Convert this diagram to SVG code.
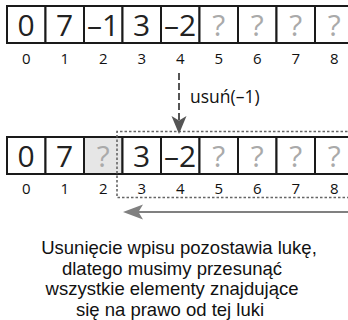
<svg xmlns="http://www.w3.org/2000/svg" width="348" height="320" viewBox="0 0 348 320">
  <style>
    .cell { fill: #ffffff; stroke: #1a1a1a; stroke-width: 2; }
    .gap { fill: #e6e6e6; stroke: #1a1a1a; stroke-width: 2; }
    .val { font-family: "Open Sans", "Noto Sans", sans-serif; font-size: 30px; fill: #222; text-anchor: middle; }
    .unk { font-family: "Open Sans", "Noto Sans", sans-serif; font-size: 30px; fill: #aaaaaa; text-anchor: middle; }
    .idx { font-family: "Open Sans", "Noto Sans", sans-serif; font-size: 15px; fill: #111; text-anchor: middle; }
    .note { font-family: "Liberation Sans", Arial, sans-serif; font-size: 18.5px; fill: #111; text-anchor: middle; }
    .lbl { font-family: "Open Sans", "Noto Sans", sans-serif; font-size: 17.5px; fill: #111; }
  </style>

  <!-- array before removal -->
  <g id="array-before">
    <rect class="cell" x="7" y="6" width="38.5" height="37"/>
    <rect class="cell" x="45.5" y="6" width="38.5" height="37"/>
    <rect class="cell" x="84" y="6" width="38.5" height="37"/>
    <rect class="cell" x="122.5" y="6" width="38.5" height="37"/>
    <rect class="cell" x="161" y="6" width="38.5" height="37"/>
    <rect class="cell" x="199.5" y="6" width="38.5" height="37"/>
    <rect class="cell" x="238" y="6" width="38.5" height="37"/>
    <rect class="cell" x="276.5" y="6" width="38.5" height="37"/>
    <rect class="cell" x="315" y="6" width="38.5" height="37"/>
    <text class="val" x="26.2" y="36">0</text>
    <text class="val" x="64.7" y="36">7</text>
    <text class="val" x="103.2" y="36">–1</text>
    <text class="val" x="141.7" y="36">3</text>
    <text class="val" x="180.2" y="36">–2</text>
    <text class="unk" x="218.7" y="36">?</text>
    <text class="unk" x="257.2" y="36">?</text>
    <text class="unk" x="295.7" y="36">?</text>
    <text class="unk" x="334.2" y="36">?</text>
    <text class="idx" x="26.2" y="64">0</text>
    <text class="idx" x="64.7" y="64">1</text>
    <text class="idx" x="103.2" y="64">2</text>
    <text class="idx" x="141.7" y="64">3</text>
    <text class="idx" x="180.2" y="64">4</text>
    <text class="idx" x="218.7" y="64">5</text>
    <text class="idx" x="257.2" y="64">6</text>
    <text class="idx" x="295.7" y="64">7</text>
    <text class="idx" x="334.2" y="64">8</text>
  </g>

  <!-- array after removal -->
  <g id="array-after">
    <rect class="cell" x="7" y="137" width="38.5" height="37"/>
    <rect class="cell" x="45.5" y="137" width="38.5" height="37"/>
    <rect class="gap" x="84" y="137" width="38.5" height="37"/>
    <rect class="cell" x="122.5" y="137" width="38.5" height="37"/>
    <rect class="cell" x="161" y="137" width="38.5" height="37"/>
    <rect class="cell" x="199.5" y="137" width="38.5" height="37"/>
    <rect class="cell" x="238" y="137" width="38.5" height="37"/>
    <rect class="cell" x="276.5" y="137" width="38.5" height="37"/>
    <rect class="cell" x="315" y="137" width="38.5" height="37"/>
    <text class="val" x="26.2" y="167">0</text>
    <text class="val" x="64.7" y="167">7</text>
    <text class="unk" x="103.2" y="167">?</text>
    <text class="val" x="141.7" y="167">3</text>
    <text class="val" x="180.2" y="167">–2</text>
    <text class="unk" x="218.7" y="167">?</text>
    <text class="unk" x="257.2" y="167">?</text>
    <text class="unk" x="295.7" y="167">?</text>
    <text class="unk" x="334.2" y="167">?</text>
    <text class="idx" x="26.2" y="194">0</text>
    <text class="idx" x="64.7" y="194">1</text>
    <text class="idx" x="103.2" y="194">2</text>
    <text class="idx" x="141.7" y="194">3</text>
    <text class="idx" x="180.2" y="194">4</text>
    <text class="idx" x="218.7" y="194">5</text>
    <text class="idx" x="257.2" y="194">6</text>
    <text class="idx" x="295.7" y="194">7</text>
    <text class="idx" x="334.2" y="194">8</text>
  </g>

  <!-- block of entries that has to move left -->
  <g id="shift-block">
    <path d="M352,131.5 H117 V197.5 H352" fill="none" stroke="#666" stroke-width="1.6" stroke-dasharray="2.5,2"/>
  </g>

  <g id="connectors">
    <!-- removal call -->
    <line x1="179" y1="73" x2="179" y2="120" stroke="#555" stroke-width="2" stroke-dasharray="7,3"/>
    <path d="M179,134 L171.5,116 L179,120.5 L186.5,116 Z" fill="#555"/>
    <!-- shift direction -->
    <line x1="138" y1="212" x2="348" y2="212" stroke="#808080" stroke-width="2"/>
    <path d="M123,212 L143,204.5 L138.5,212 L143,219.5 Z" fill="#808080"/>
  </g>

  <g id="remove-label">
    <text class="lbl" x="190" y="103">usuń(–1)</text>
  </g>

  <g id="caption">
    <text class="note" x="179" y="254">Usunięcie wpisu pozostawia lukę,</text>
    <text class="note" x="172" y="274.7">dlatego musimy przesunąć</text>
    <text class="note" x="172" y="295.4">wszystkie elementy znajdujące</text>
    <text class="note" x="170" y="316">się na prawo od tej luki</text>
  </g>
</svg>
